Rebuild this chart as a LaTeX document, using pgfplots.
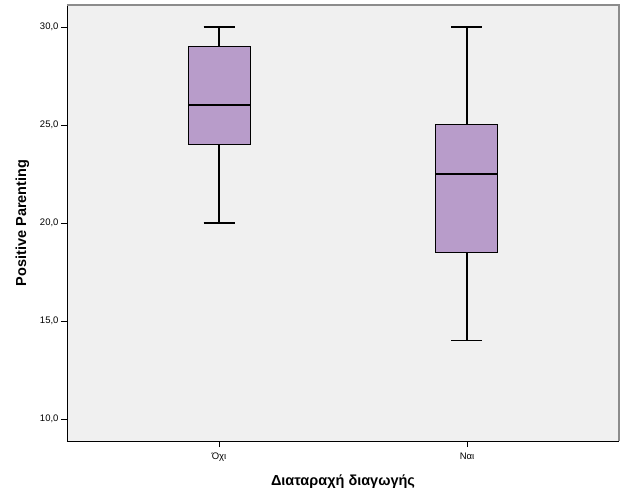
\documentclass[border=0pt]{standalone}
\usepackage{fontspec}
\setmainfont{Liberation Sans}
\usepackage{pgfplots}
\pgfplotsset{compat=1.18}
\usepgfplotslibrary{statistics}
\definecolor{boxfill}{HTML}{B89CCA}
\definecolor{plotbg}{HTML}{F0F0F0}
\begin{document}
\begin{tikzpicture}[x=1pt,y=1pt]
\begin{axis}[
  scale only axis,
  width=552pt, height=436pt,
  xmin=0.387, xmax=2.613,
  ymin=8.88, ymax=31.12,
  axis background/.style={fill=plotbg},
  axis x line*=bottom, axis y line*=left,
  axis line style={black, line width=0.9pt},
  xtick={1,2}, xticklabels={Όχι,Ναι},
  ytick={10,15,20,25,30},
  tick align=outside,
  major tick length=6pt,
  tick style={black, line width=0.9pt},
  yticklabel style={font=\fontsize{9.5}{10}\selectfont, xshift=1pt},
  xticklabel style={font=\fontsize{9.5}{10}\selectfont, yshift=-2pt},
  /pgf/number format/.cd, fixed, fixed zerofill, precision=1, use comma, assume math mode=true,
  /pgfplots/.cd,
  xlabel={\bfseries Διαταραχή διαγωγής},
  ylabel={\bfseries Positive Parenting},
  xlabel style={font=\fontsize{14.5}{16}\selectfont, yshift=-7pt},
  ylabel style={font=\fontsize{14.5}{16}\selectfont, yshift=4pt},
  boxplot/draw direction=y,
  clip=false,
]
\addplot[draw=black, fill=boxfill, line width=1.3pt,
  boxplot prepared={draw position=1, lower whisker=20, lower quartile=24, median=26, upper quartile=29, upper whisker=30, box extend=0.25, whisker extend=0.125},
  boxplot/every median/.style={line width=2pt},
  boxplot/every whisker/.style={line width=1.5pt},
  boxplot/every box/.style={line width=1pt}]
  coordinates {};
\addplot[draw=black, fill=boxfill, line width=1.3pt,
  boxplot prepared={draw position=2, lower whisker=14, lower quartile=18.5, median=22.5, upper quartile=25, upper whisker=30, box extend=0.25, whisker extend=0.125},
  boxplot/every median/.style={line width=2pt},
  boxplot/every whisker/.style={line width=1.5pt},
  boxplot/every box/.style={line width=1pt}]
  coordinates {};
\draw[gray!90, line width=1.2pt] (rel axis cs:0,1) -- (rel axis cs:1,1) -- (rel axis cs:1,0);
\end{axis}
\useasboundingbox ([shift={(-67pt,-60pt)}]current axis.south west) rectangle ([shift={(7pt,5pt)}]current axis.north east);
\end{tikzpicture}
\end{document}
